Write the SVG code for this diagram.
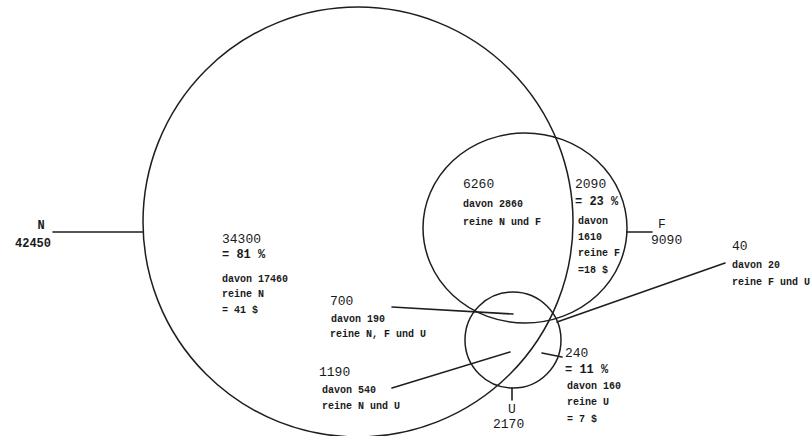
<svg xmlns="http://www.w3.org/2000/svg" width="812" height="436" viewBox="0 0 812 436">
<style>
.set{fill:none;stroke:#1e1e1e;stroke-width:1.5}
.ln{fill:none;stroke:#1e1e1e;stroke-width:1.6;stroke-linecap:round}
.big{font-family:"Liberation Mono",monospace;font-size:13px;fill:#1a1a1a}
.bigb{font-family:"Liberation Mono",monospace;font-size:12px;font-weight:bold;fill:#1a1a1a}
.sm{font-family:"Liberation Mono",monospace;font-size:10px;font-weight:bold;fill:#1a1a1a}
</style>
<rect width="812" height="436" fill="#ffffff"/>
<g id="node-N">
<circle class="set" cx="358" cy="222" r="215"/>
<text class="bigb" x="41" y="229" text-anchor="middle">N</text>
<text class="bigb" x="15" y="247">42450</text>
</g>
<g id="node-F">
<ellipse class="set" cx="525" cy="228" rx="102" ry="95"/>
<text class="big" x="662" y="228" text-anchor="middle">F</text>
<text class="big" x="651" y="244">9090</text>
</g>
<g id="node-U">
<circle class="set" cx="513" cy="340" r="48"/>
<text class="big" x="512" y="413" text-anchor="middle">U</text>
<text class="big" x="493" y="428">2170</text>
</g>
<g id="region-N-only">
<text class="big" x="222" y="243">34300</text>
<text class="bigb" x="222" y="258">= 81 %</text>
<text class="sm" x="222" y="282">davon 17460</text>
<text class="sm" x="222" y="297">reine N</text>
<text class="sm" x="222" y="313">= 41 $</text>
</g>
<g id="region-NF">
<text class="big" x="463" y="188">6260</text>
<text class="sm" x="463" y="207">davon 2860</text>
<text class="sm" x="463" y="225">reine N und F</text>
</g>
<g id="region-F-only">
<text class="big" x="575" y="188">2090</text>
<text class="bigb" x="575" y="205">= 23 %</text>
<text class="sm" x="578" y="224">davon</text>
<text class="sm" x="578" y="240">1610</text>
<text class="sm" x="578" y="256">reine F</text>
<text class="sm" x="578" y="273">=18 $</text>
</g>
<g id="region-FU">
<text class="big" x="732" y="250">40</text>
<text class="sm" x="732" y="268">davon 20</text>
<text class="sm" x="732" y="285">reine F und U</text>
</g>
<g id="region-NFU">
<text class="big" x="330" y="305">700</text>
<text class="sm" x="331" y="322">davon 190</text>
<text class="sm" x="330" y="337">reine N, F und U</text>
</g>
<g id="region-NU">
<text class="big" x="319" y="376">1190</text>
<text class="sm" x="322" y="393">davon 540</text>
<text class="sm" x="322" y="409">reine N und U</text>
</g>
<g id="region-U-only">
<text class="big" x="565" y="357">240</text>
<text class="bigb" x="565" y="373">= 11 %</text>
<text class="sm" x="567" y="389">davon 160</text>
<text class="sm" x="567" y="405">reine U</text>
<text class="sm" x="567" y="422">= 7 $</text>
</g>
<g id="connectors">
<line class="ln" x1="53" y1="232" x2="143" y2="232"/>
<line class="ln" x1="627" y1="232" x2="652" y2="232"/>
<line class="ln" x1="512" y1="388" x2="512" y2="400"/>
<line class="ln" x1="392" y1="307" x2="513" y2="314"/>
<line class="ln" x1="392" y1="388" x2="510" y2="352"/>
<line class="ln" x1="542" y1="353" x2="562" y2="357"/>
<line class="ln" x1="557" y1="322" x2="725" y2="263"/>
</g>
</svg>
